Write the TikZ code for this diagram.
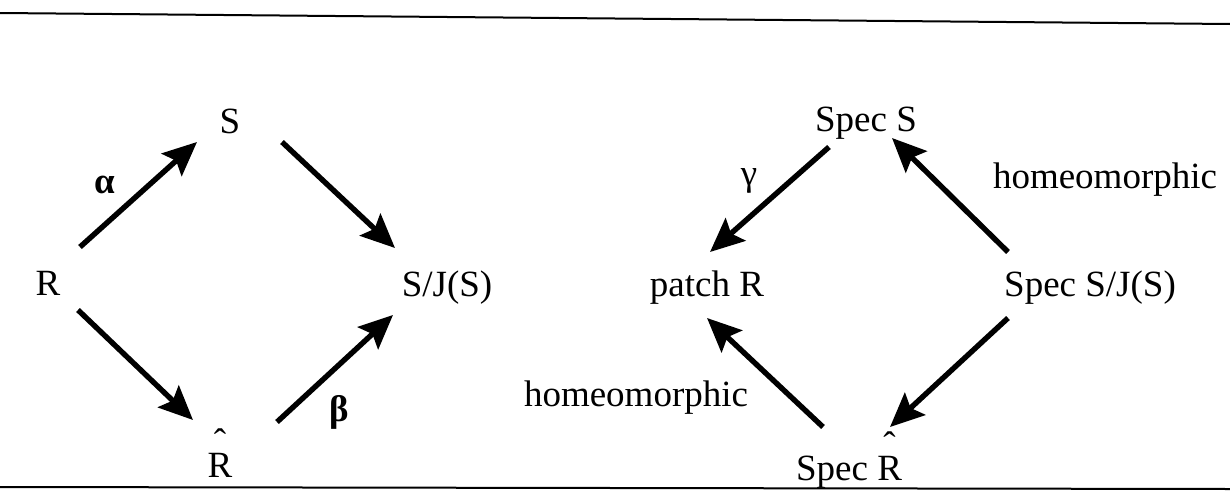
\documentclass[tikz,border=0pt]{standalone}
\usepackage{fontspec}
\setmainfont{Liberation Serif}
\usetikzlibrary{arrows.meta}
\newcommand\myhatR{\ooalign{R\cr\hidewidth\raisebox{0.62em}{\char"02C6}\hidewidth\cr}}
\begin{document}
\begin{tikzpicture}[x=0.5pt,y=-0.5pt,
  lbl/.style={inner sep=0pt, anchor=base, font=\fontsize{18.5}{22}\selectfont},
  greek/.style={inner sep=0pt, anchor=center, font=\fontsize{18.5}{22}\selectfont\bfseries},
  arr/.style={line width=2.7pt, -{Stealth[length=17pt,width=15pt,inset=3pt]}},
  rulel/.style={line width=1pt}]
\useasboundingbox (0,0) rectangle (1230,498);
% rules
\draw[rulel] (0,13) -- (1230,24);
\draw[rulel] (0,487) -- (1230,489);
% left diagram
\node[lbl] (R)  at (48,295)  {R};
\node[lbl] (S)  at (230,133) {S};
\node[lbl] (SJ) at (447,296) {S/J(S)};
\node[lbl] (Rh) at (220,477) {\myhatR};
\node[greek] (alpha) at (105,185) {α};
\node[greek] (beta)  at (339,412) {β};
\draw[arr] ([shift={(32,-48)}]R.base) -- ([shift={(-33,9)}]S.base);
\draw[arr] ([shift={(52,9)}]S.base) -- ([shift={(-52,-48)}]SJ.base);
\draw[arr] ([shift={(30,15)}]R.base) -- ([shift={(-27,-57)}]Rh.base);
\draw[arr] ([shift={(57,-55)}]Rh.base) -- ([shift={(-54,19)}]SJ.base);
% right diagram
\node[lbl] (PR)  at (707,296)  {patch R};
\node[lbl] (SS)  at (866,131)  {Spec S};
\node[lbl] (SSJ) at (1090,296) {Spec S/J(S)};
\node[lbl] (SR)  at (849,480)  {Spec \myhatR};
\node[greek, font=\fontsize{18.5}{22}\selectfont] (gamma) at (749,181) {γ};
\node[lbl] (h1) at (1105,188) {homeomorphic};
\node[lbl] (h2) at (636,406)  {homeomorphic};
\draw[arr] ([shift={(-37,16)}]SS.base) -- ([shift={(3,-44)}]PR.base);
\draw[arr] ([shift={(-82,-44)}]SSJ.base) -- ([shift={(26,7)}]SS.base);
\draw[arr] ([shift={(-82,22)}]SSJ.base) -- ([shift={(41,-53)}]SR.base);
\draw[arr] ([shift={(-26,-53)}]SR.base) -- ([shift={(0,22)}]PR.base);
\end{tikzpicture}
\end{document}
